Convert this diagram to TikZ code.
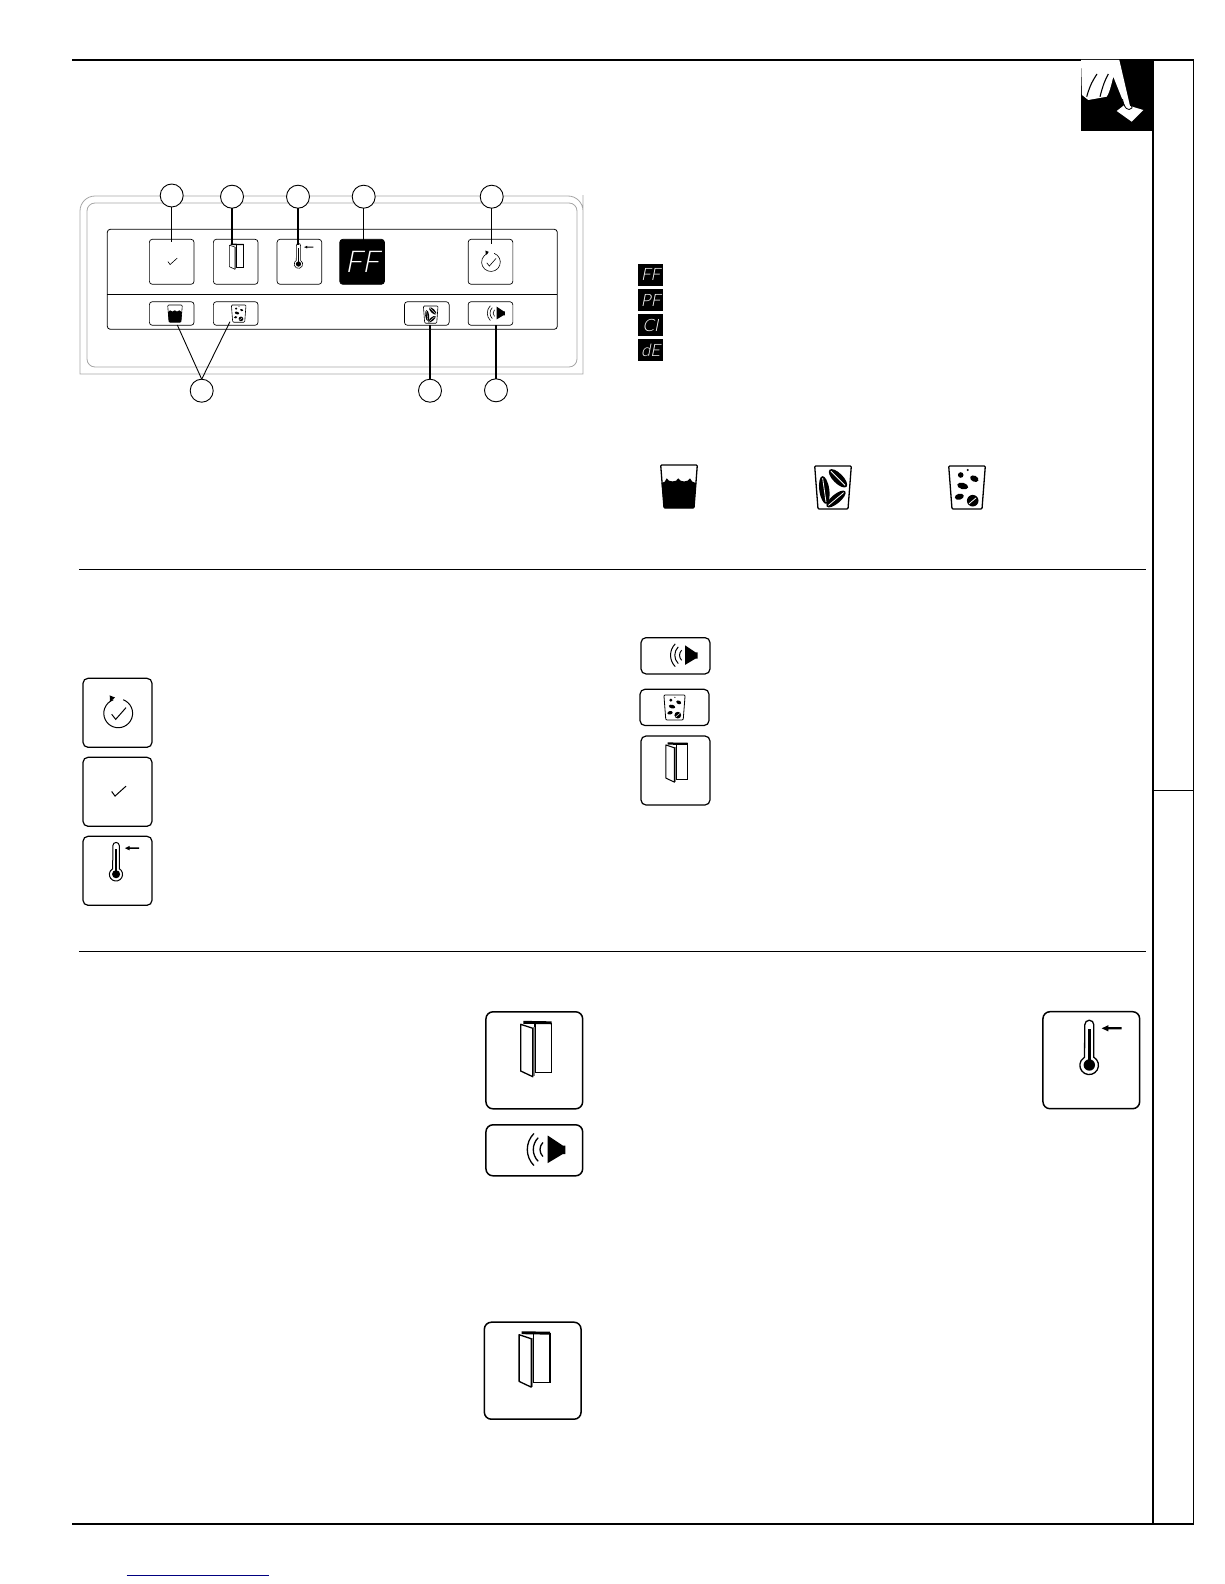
\documentclass[tikz,border=0pt]{standalone}
\usepackage{fontspec}
\usepackage{tikz}
\usetikzlibrary{positioning}
\newfontfamily\lcdfont[FakeSlant=0.2]{Lato Light}
\newcommand{\cupoutline}{\draw[rounded corners=1] (-18.3,0) -- (18.3,0) -- (15,43) -- (-15,43) -- cycle;}
\tikzset{
    doorIcon/.pic={
        \draw[fill=white] (0.7,-37) rectangle (17.4,12);
        \draw[line width=1.5*\pgflinewidth] (-11,-38) -- (17.4,-37.5);
        \draw[gray, line width=2] (-0.5,-33) -- (-0.5,16);
        \draw[fill=white, line join=round] (-13.6,-36) -- (-1.5,-32) -- (-1.5,16.4) -- (-13.6,10.7) -- cycle;
    },
    speakerIcon/.pic={
        \fill (13.4,-14.8) -- (28.4,-4.8) -- (31,-4.8) -- (31,3.8) -- (28.4,3.8) -- (13.4,12.8) -- cycle;
        \draw (15.7,-0.8) ++(135:10) arc[start angle=135, end angle=225, radius=10];
        \draw (15.7,-0.8) ++(135:16.7) arc[start angle=135, end angle=225, radius=16.7];
        \draw (15.7,-0.8) ++(135:22.7) arc[start angle=135, end angle=225, radius=22.7];
    },
    thermoIcon/.pic={
        \draw[fill=white] (-6.5,-35.5) arc[start angle=180, end angle=360, radius=4.5] -- (2.5,-3)
            arc[start angle=-60, end angle=240, radius=9.3] -- cycle;
        \fill (-3.3,-31) rectangle (-0.7,0);
        \fill (-2,4.8) circle[radius=5.7];
        \fill (10.4,-31.9) -- (17,-35) -- (17,-33) -- (30.4,-33) -- (30.4,-30.8) -- (17,-30.8) -- (17,-28.8) -- cycle;
    },
    checkIcon/.pic={
        \draw (-8.2,-0.5) -- (-3.5,6) -- (12,-8);
    },
    cycleIcon/.pic={
        \draw (1,0.7) ++(-70:20.3) arc[start angle=-70, end angle=250, radius=20.3];
        \fill (-11,-24.5) -- (-3.5,-21.5) -- (-10.5,-15.5) -- cycle;
        \draw (-8.2,2.1) -- (-2.5,9.2) -- (12,-7.3);
    },
    waterIcon/.pic={
        \cupoutline
        \fill (-17.5,18) .. controls (-15,18) and (-13,16) .. (-12.3,13.3)
            .. controls (-11,17.5) and (-2,17.5) .. (-0.7,13.3)
            .. controls (0.5,17.5) and (9.5,17.5) .. (11,13.3)
            .. controls (12,16) and (14,18) .. (17.2,18) -- (15,43) -- (-15,43) -- cycle;
    },
    beanIcon/.pic={
        \cupoutline
        \begin{scope}[shift={(-8.7,24)}, rotate=98]
            \fill (0,0) ellipse[x radius=14, y radius=5];
            \fill[white] (-12,-0.4) rectangle (12,0.4);
        \end{scope}
        \begin{scope}[shift={(5,12.3)}, rotate=-45]
            \fill (0,0) ellipse[x radius=12, y radius=5];
            \fill[white] (-10,-0.4) rectangle (10,0.4);
        \end{scope}
        \begin{scope}[shift={(3,33)}, rotate=40]
            \fill (0,0) ellipse[x radius=12, y radius=4.5];
            \fill[white] (-10,-0.4) rectangle (10,0.4);
        \end{scope}
    },
    iceIcon/.pic={
        \cupoutline
        \fill (-6.3,9) circle[radius=2.8];
        \fill (0.7,4) circle[radius=1.1];
        \fill[rotate around={-25:(7.3,12.7)}] (7.3,12.7) ellipse[x radius=4.4, y radius=3];
        \fill[rotate around={-15:(-4.3,20)}] (-4.3,20) ellipse[x radius=5.6, y radius=3.2];
        \fill[rotate around={15:(-7.7,30.7)}] (-7.7,30.7) ellipse[x radius=4.6, y radius=3];
        \fill (5.7,34.7) circle[radius=5.8];
        \fill[white, rotate around={40:(5.7,34.7)}] (1,34.3) rectangle (10,35.1);
    },
}
\begin{document}
\begin{tikzpicture}[
    x=1pt, y=-1pt,
    pnlbtn/.style={draw, rectangle, rounded corners=3, line width=0.7, minimum width=44.7, minimum height=45, inner sep=0, outer sep=0},
    lowbtn/.style={pnlbtn, minimum height=23.6},
    medbtn/.style={draw, rectangle, rounded corners=5, line width=1.2, minimum width=69, minimum height=69, inner sep=0, outer sep=0},
    bigbtn/.style={draw, rectangle, rounded corners=7, line width=1.5, minimum width=96.7, minimum height=97, inner sep=0, outer sep=0},
    ring/.style={draw, circle, fill=white, line width=0.9, minimum size=23, inner sep=0, outer sep=0},
    leader/.style={line width=1.3},
    rule/.style={line width=1},
    lcdtile/.style={fill=black, minimum width=25.3, minimum height=21.7, inner sep=0, outer sep=0, text=white, font=\lcdfont\fontsize{17}{17}\selectfont},
    tiny/.style={scale=0.46, line width=0.6},
    mid/.style={scale=0.71, line width=1},
    full/.style={line width=1.3},
]
\useasboundingbox (0,0) rectangle (1224,1584);

\draw[rule, line width=1.3] (72,60) -- (1193.7,60);
\draw[line width=1.8] (1153,60) -- (1153,1523.7);
\draw[rule] (1193.7,60) -- (1193.7,1523.7);
\draw[rule] (1153,790.8) -- (1193.7,790.8);
\draw[line width=2] (72,1523.7) -- (1193.7,1523.7);
\draw[rule] (78.8,569.3) -- (1146,569.3);
\draw[rule] (78.8,951) -- (1146,951);
\draw[color=blue!50!black, line width=1] (126.7,1575.3) -- (269,1575.3);

\fill (1081,59.3) rectangle (1153.3,130.7);
\fill[white] (1116.7,111) -- (1125,104.5) -- (1143.3,110) -- (1131.7,121.7) -- cycle;
\fill[white] (1081,60) -- (1119.3,60) -- (1130,106) .. controls (1130.5,109) and (1126,109) .. (1125,106) -- (1113.3,76.7)
    .. controls (1110,90) and (1109,93) .. (1106.7,96.7) -- (1088.3,100) -- (1082,95) -- cycle;
\draw[line width=0.8] (1122.5,99) .. controls (1124,108) and (1128,112) .. (1132,108) -- (1130.5,100);
\draw[line width=1.1] (1086.7,96.7) .. controls (1090,85) and (1093,80) .. (1097,74);
\draw[line width=1.1] (1100,96.7) .. controls (1103,85) and (1105,80) .. (1108.3,74);

\draw[gray!70, line width=0.8] (80,374) [rounded corners=15] -- (80,196) -- (583,196) -- (583,210) [sharp corners] -- (583,374) -- cycle;
\draw[gray!70, line width=0.8, rounded corners=8] (87,203) rectangle (577,367);
\draw[line width=0.8, rounded corners=3] (107.3,229.3) rectangle (557.3,329.3);
\draw[line width=0.8] (107.3,294) -- (557.3,294);

\node[pnlbtn] (btnset) at (171.7,261.8) {};
\node[pnlbtn, right=19.3pt of btnset] (btndoor) {};
\node[pnlbtn, right=19pt of btndoor] (btntemp) {};
\node[pnlbtn, right=18pt of btntemp, fill=black, text=white, font=\lcdfont\fontsize{30}{30}\selectfont] (lcdmain) {FF};
\node[pnlbtn, right=83.7pt of lcdmain] (btncycle) {};
\node[lowbtn, below=17.4pt of btnset] (btnwater) {};
\node[lowbtn, below=17.4pt of btndoor] (btnice) {};
\node[lowbtn, right=146.4pt of btnice] (btnbean) {};
\node[lowbtn, below=17.4pt of btncycle] (btnsound) {};

\pic[tiny] at (btnset) {checkIcon};
\pic[tiny] at (btndoor) {doorIcon};
\pic[tiny] at (btntemp) {thermoIcon};
\pic[tiny] at (btncycle) {cycleIcon};
\pic[scale=0.4, line width=0.6] at (175,305) {waterIcon};
\pic[scale=0.4, line width=0.6] at (238.7,305) {iceIcon};
\pic[scale=0.4, line width=0.6] at (430.7,306) {beanIcon};
\pic[tiny] at (btnsound) {speakerIcon};

\node[ring] (ringa) at (171.7,195.5) {};
\node[ring] (ringb) at (232,196.7) {};
\node[ring] (ringc) at (298,196.7) {};
\node[ring] (ringd) at (363.7,196.7) {};
\node[ring] (ringe) at (491.7,196.7) {};
\node[ring] (ringf) at (201.7,390.7) {};
\node[ring] (ringg) at (430,390.7) {};
\node[ring] (ringh) at (496,390.3) {};

\coordinate (tipa) at (171.7,241.7);
\coordinate (tipb) at (232,245);
\coordinate (tipc) at (298,245);
\coordinate (tipd) at (363.7,241.7);
\coordinate (tipe) at (491.7,244);
\coordinate (tipf) at (177.3,325);
\coordinate (tipg) at (230,321.7);

\draw[leader] (ringa) -- (tipa);
\draw[leader] (ringb) -- (tipb);
\draw[leader] (ringc) -- (tipc);
\draw[leader] (ringd) -- (tipd);
\draw[line width=0.7] (ringe) -- (tipe);
\draw[line width=0.9] (ringf.north) -- (tipf);
\draw[line width=0.9] (ringf.north) -- (tipg);
\draw[leader] (ringg) -- (btnbean.south -| ringg);
\draw[leader] (ringh) -- (btnsound.south -| ringh);

\node[lcdtile] (lcdff) at (650.7,274.8) {FF};
\node[lcdtile, below=3.6pt of lcdff] (lcdpf) {PF};
\node[lcdtile, below=3.3pt of lcdpf] (lcdci) {CI};
\node[lcdtile, below=3.3pt of lcdci] (lcdde) {dE};

\pic[full] at (679,465) {waterIcon};
\pic[full] at (833,466) {beanIcon};
\pic[full] at (967,466) {iceIcon};

\node[medbtn] (medcycle) at (117.5,712.8) {};
\node[medbtn, below=10pt of medcycle] (medset) {};
\node[medbtn, below=10pt of medset] (medtemp) {};
\pic[mid] at (medcycle) {cycleIcon};
\pic[mid] at (medset) {checkIcon};
\pic[mid] at (medtemp) {thermoIcon};

\node[medbtn, minimum height=36.3] (medsound) at (675.5,655.8) {};
\node[medbtn, minimum height=36.3, below=15.3pt of medsound, xshift=-1pt] (medice) {};
\node[medbtn] (meddoor) at (675.5,770.5) {};
\pic[mid] at (medsound) {speakerIcon};
\pic[scale=0.58, line width=0.8] at (674.5,695) {iceIcon};
\pic[mid] at (meddoor) {doorIcon};

\node[bigbtn] (bigdoor) at (534.3,1060.3) {};
\node[bigbtn, minimum height=51, below=16pt of bigdoor] (bigsound) {};
\node[bigbtn] (bigtemp) at (1091.3,1060.2) {};
\node[bigbtn] (lowdoor) at (532.7,1370.7) {};
\pic[full] at (bigdoor) {doorIcon};
\pic[full] at (bigsound) {speakerIcon};
\pic[full] at (bigtemp) {thermoIcon};
\pic[full] at (lowdoor) {doorIcon};
\end{tikzpicture}
\end{document}
